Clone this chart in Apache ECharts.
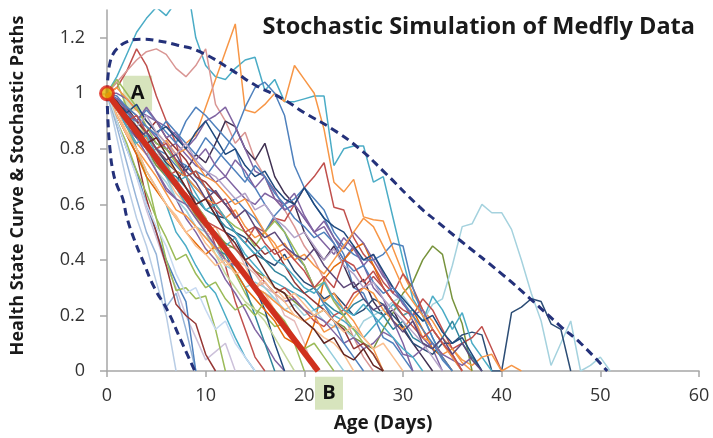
<!DOCTYPE html>
<html><head><meta charset="utf-8">
<script src="https://cdn.jsdelivr.net/npm/echarts@6/dist/echarts.min.js"></script>
<style>html,body{margin:0;padding:0;background:#fff}#c{width:713px;height:438px}</style>
</head><body><div id="c"></div>
<script>
// ---- data (day index = x) ----
const xTicks = [0,10,20,30,40,50,60];
const yTicks = [0,0.2,0.4,0.6,0.8,1,1.2];
const titleText = 'Stochastic Simulation of Medfly Data';
const xName = 'Age (Days)';
const yName = 'Health State Curve & Stochastic Paths';

const p01 = [1,0.84,0.68,0.55,0.45,0.32,0.2,0.0];
const p02 = [1,0.88,0.75,0.62,0.5,0.42,0.23,0.28,0.15,0.0];
const p03 = [1,0.9,0.8,0.7,0.58,0.48,0.38,0.3,0.2,0.12,0.04,0.07,0.1,0];
const p04 = [1,0.9,0.8,0.72,0.6,0.5,0.4,0.32,0.25,0.0];
const p05 = [1,0.92,0.85,0.78,0.62,0.5,0.38,0.24,0.2,0.17,0.06,0.0];
const p06 = [1,0.95,0.88,0.8,0.7,0.55,0.4,0.29,0.3,0.26,0.27,0.15,0.0];
const p07 = [1,1.02,1.08,1.16,1.1,0.99,0.9,0.82,0.7,0.6,0.55,0.45,0.38,0.25,0.15,0.05,0];
const p08 = [1,0.96,0.9,0.8,0.72,0.66,0.6,0.5,0.45,0.38,0.32,0.28,0.2,0.12,0.05,0];
const p09 = [1,0.97,0.92,0.85,0.8,0.72,0.65,0.62,0.55,0.5,0.44,0.4,0.33,0.28,0.22,0.15,0.1,0.04,0];
const p10 = [1,1.04,0.95,0.9,0.85,0.8,0.75,0.68,0.62,0.6,0.55,0.48,0.4,0.35,0.28,0.22,0.2,0.16,0.17,0.1,0.0];
const p11 = [1,0.95,0.9,0.88,0.82,0.78,0.7,0.64,0.6,0.56,0.5,0.52,0.45,0.4,0.38,0.3,0.28,0.22,0.15,0.1,0.08,0.0];
const p12 = [1,0.98,0.94,0.88,0.82,0.76,0.72,0.66,0.62,0.58,0.5,0.44,0.42,0.36,0.3,0.2,0.1,0];
const p13 = [1,0.95,0.9,0.86,0.8,0.78,0.7,0.68,0.74,0.7,0.66,0.58,0.5,0.48,0.4,0.3,0.22,0.1,0.0];
const p14 = [1,0.97,0.93,0.88,0.85,0.8,0.72,0.7,0.62,0.58,0.5,0.48,0.44,0.45,0.38,0.35,0.3,0.28,0.2,0.18,0.1,0.0];
const p15 = [1,0.96,0.9,0.86,0.84,0.76,0.7,0.62,0.58,0.52,0.5,0.44,0.38,0.36,0.3,0.32,0.3,0.26,0.22,0.2,0.18,0.15,0.1,0.05,0.0];
const p16 = [1,0.98,0.92,0.86,0.8,0.76,0.72,0.66,0.6,0.55,0.5,0.42,0.35,0.3,0.25,0.22,0.18,0.12,0.06,0];
const p17 = [1,1.06,1.14,1.22,1.27,1.31,1.28,1.33,1.42,1.2,1.1,1.06,1.05,1.09,1.12,1.13,1.01,1.05,0.97,0.97,0.98,0.99,0.99,0.74,0.8,0.81,0.81,0.68,0.7,0.55,0.4,0.26,0.2,0.12,0.05,0];
const p18 = [1,0.95,0.88,0.82,0.78,0.8,0.83,0.78,0.82,0.85,0.95,1.05,1.15,1.25,0.94,0.93,0.96,1.0,0.97,1.1,1.05,1.0,0.87,0.68,0.645,0.69,0.555,0.545,0.54,0.44,0.35,0.28,0.22,0.18,0.12,0.08,0.03,0];
const p19 = [1,1.04,1.08,1.12,1.15,1.16,1.14,1.09,1.06,1.1,1.16,0.96,0.9,0.82,0.86,0.76,0.7,0.62,0.58,0.52,0.45,0.4,0.33,0.26,0.2,0.12,0.05,0];
const p20 = [1,0.96,0.92,0.88,0.84,0.8,0.78,0.74,0.7,0.72,0.7,0.75,0.8,0.86,0.95,1.02,1.04,1.0,0.92,0.74,0.66,0.6,0.55,0.48,0.42,0.3,0.28,0.2,0.12,0.1,0.05,0];
const p21 = [1,0.98,0.95,0.9,0.86,0.82,0.8,0.76,0.72,0.78,0.75,0.82,0.9,0.88,0.8,0.76,0.82,0.7,0.64,0.6,0.5,0.44,0.4,0.45,0.38,0.3,0.33,0.25,0.2,0.22,0.15,0.1,0.05,0];
const p22 = [1,1.0,0.98,0.94,0.92,0.9,0.88,0.85,0.8,0.84,0.9,0.92,0.95,0.88,0.8,0.72,0.7,0.65,0.58,0.6,0.55,0.5,0.52,0.46,0.4,0.45,0.38,0.42,0.35,0.28,0.25,0.18,0.12,0.08,0];
const p23 = [1,0.95,0.88,0.84,0.8,0.75,0.7,0.72,0.66,0.6,0.62,0.58,0.55,0.5,0.46,0.52,0.5,0.55,0.54,0.6,0.66,0.7,0.75,0.59,0.58,0.48,0.42,0.38,0.32,0.28,0.35,0.3,0.22,0.15,0.1,0.05,0];
const p24 = [1,0.92,0.85,0.78,0.7,0.65,0.6,0.55,0.5,0.46,0.42,0.45,0.4,0.36,0.3,0.26,0.22,0.18,0.12,0.1,0.08,0.17,0.33,0.375,0.4,0.44,0.46,0.38,0.3,0.25,0.2,0.22,0.15,0.08,0.05,0];
const p25 = [1,0.95,0.9,0.86,0.8,0.74,0.7,0.66,0.62,0.56,0.52,0.5,0.46,0.44,0.4,0.36,0.34,0.3,0.28,0.25,0.22,0.2,0.22,0.18,0.16,0.12,0.1,0.08,0.15,0.21,0.28,0.32,0.4,0.45,0.42,0.26,0.17,0.0];
const p26 = [1,0.95,0.9,0.85,0.8,0.72,0.68,0.62,0.58,0.52,0.48,0.45,0.4,0.38,0.35,0.3,0.28,0.26,0.22,0.24,0.2,0.22,0.18,0.16,0.15,0.12,0.18,0.2,0.22,0.25,0.27,0.22,0.18,0.24,0.26,0.38,0.52,0.53,0.6,0.57,0.57,0.51,0.4,0.28,0.18,0.02,0.1,0.18,0.0,0.02,0.05,0.0];
const p27 = [1,0.96,0.92,0.88,0.84,0.8,0.75,0.72,0.7,0.66,0.62,0.56,0.55,0.5,0.48,0.44,0.4,0.38,0.42,0.36,0.32,0.3,0.26,0.28,0.24,0.2,0.22,0.26,0.24,0.2,0.16,0.1,0.08,0.06,0.1,0.1,0.13,0.14,0.13,0.0,0.0,0.21,0.23,0.26,0.25,0.17,0.15,0.0];
const p28 = [1,0.97,0.93,0.9,0.88,0.85,0.8,0.76,0.74,0.7,0.66,0.64,0.6,0.62,0.58,0.55,0.5,0.56,0.6,0.62,0.66,0.62,0.58,0.5,0.45,0.42,0.4,0.4,0.42,0.46,0.45,0.3,0.2,0.12,0.05,0];
const p29 = [1,0.94,0.9,0.84,0.8,0.76,0.7,0.66,0.6,0.58,0.52,0.5,0.45,0.48,0.42,0.38,0.34,0.32,0.3,0.28,0.26,0.22,0.24,0.2,0.18,0.15,0.12,0.16,0.2,0.24,0.2,0.22,0.18,0.27,0.22,0.15,0.21,0.1,0.05,0];
const p30 = [1,0.97,0.9,0.85,0.82,0.76,0.72,0.66,0.64,0.6,0.54,0.52,0.5,0.44,0.4,0.36,0.32,0.28,0.3,0.26,0.22,0.18,0.16,0.2,0.22,0.28,0.3,0.34,0.3,0.25,0.22,0.2,0.26,0.22,0.15,0.08,0.1,0.12,0.16,0.08,0];
const p31 = [1,0.92,0.86,0.8,0.75,0.7,0.64,0.58,0.56,0.52,0.48,0.44,0.45,0.4,0.35,0.3,0.28,0.25,0.22,0.2,0.18,0.2,0.14,0.16,0.2,0.26,0.3,0.28,0.22,0.18,0.15,0.2,0.12,0.1,0.06,0.08,0.04,0.02,0.05,0.06,0.0,0.02,0];
const p32 = [1,0.94,0.88,0.84,0.78,0.72,0.66,0.62,0.6,0.55,0.5,0.45,0.4,0.38,0.34,0.3,0.32,0.28,0.25,0.26,0.22,0.2,0.18,0.14,0.1,0.12,0.08,0.1,0.14,0.12,0.06,0.05,0.08,0.1,0.06,0.04,0.02,0.05,0.0];
const p33 = [1,0.96,0.92,0.86,0.82,0.78,0.72,0.7,0.66,0.62,0.58,0.56,0.52,0.5,0.46,0.42,0.4,0.36,0.34,0.3,0.28,0.3,0.25,0.22,0.2,0.24,0.26,0.22,0.2,0.15,0.18,0.12,0.1,0.08,0.12,0.18,0.1,0.05,0];
const p34 = [1,0.98,0.95,0.92,0.88,0.84,0.8,0.82,0.78,0.74,0.72,0.68,0.7,0.66,0.62,0.6,0.64,0.62,0.58,0.6,0.55,0.5,0.46,0.42,0.48,0.44,0.38,0.3,0.26,0.18,0.1,0.0];
const p35 = [1,1.02,0.98,0.94,0.9,0.86,0.82,0.78,0.8,0.75,0.7,0.68,0.64,0.6,0.62,0.56,0.5,0.46,0.4,0.42,0.38,0.3,0.25,0.28,0.22,0.18,0.12,0.08,0];
const p36 = [1,0.97,0.92,0.9,0.94,0.9,0.86,0.82,0.9,0.95,0.92,0.88,0.84,0.8,0.7,0.66,0.6,0.55,0.5,0.42,0.38,0.3,0.24,0.18,0.1,0.05,0];
const p37 = [1,1.05,1.0,0.95,0.88,0.82,0.8,0.75,0.7,0.72,0.66,0.6,0.55,0.52,0.5,0.45,0.5,0.54,0.5,0.44,0.38,0.3,0.32,0.25,0.2,0.15,0.1,0.06,0];
const p38 = [1,0.96,0.94,0.9,0.86,0.9,0.84,0.8,0.76,0.7,0.68,0.64,0.6,0.56,0.5,0.46,0.42,0.44,0.38,0.32,0.28,0.25,0.22,0.18,0.15,0.08,0.1,0.06,0.0];
const p39 = [1,0.92,0.85,0.8,0.72,0.66,0.6,0.55,0.5,0.45,0.42,0.38,0.4,0.35,0.36,0.3,0.32,0.28,0.25,0.2,0.18,0.15,0.12,0.1,0.06,0];
const p40 = [1,0.98,0.94,0.9,0.95,0.9,0.84,0.86,0.8,0.76,0.8,0.74,0.7,0.76,0.72,0.66,0.7,0.62,0.6,0.64,0.56,0.5,0.54,0.48,0.44,0.5,0.46,0.4,0.34,0.3,0.24,0.2,0.22,0.15,0.1,0.06,0];
const p41 = [1,0.97,0.93,0.96,0.9,0.86,0.88,0.84,0.8,0.86,0.9,0.84,0.78,0.8,0.74,0.7,0.72,0.66,0.62,0.6,0.66,0.6,0.55,0.52,0.5,0.45,0.4,0.42,0.36,0.3,0.26,0.22,0.18,0.2,0.14,0.1,0.12,0.06,0];
const p42 = [1,0.99,0.95,0.92,0.88,0.85,0.9,0.86,0.82,0.78,0.84,0.8,0.76,0.72,0.68,0.74,0.7,0.64,0.6,0.55,0.52,0.48,0.5,0.46,0.4,0.36,0.38,0.32,0.28,0.3,0.25,0.2,0.15,0.1,0.04,0];
const p43 = [1,0.96,0.92,0.88,0.92,0.86,0.82,0.78,0.82,0.76,0.72,0.7,0.66,0.62,0.64,0.58,0.6,0.55,0.52,0.48,0.5,0.45,0.4,0.44,0.38,0.35,0.3,0.32,0.26,0.22,0.18,0.14,0.1,0.05,0];
const p44 = [1,0.95,0.92,0.86,0.84,0.8,0.76,0.72,0.7,0.66,0.62,0.6,0.55,0.58,0.52,0.48,0.5,0.44,0.46,0.4,0.42,0.38,0.35,0.4,0.45,0.5,0.55,0.52,0.45,0.38,0.3,0.25,0.2,0.15,0.1,0.05,0];
const p45 = [1,0.96,0.9,0.92,0.86,0.8,0.82,0.76,0.7,0.72,0.66,0.6,0.62,0.56,0.5,0.52,0.46,0.42,0.44,0.4,0.36,0.3,0.34,0.3,0.4,0.38,0.32,0.36,0.3,0.25,0.2,0.16,0.12,0.15,0.1,0.06,0];
const p46 = [1,0.95,0.9,0.84,0.86,0.8,0.76,0.78,0.72,0.68,0.62,0.65,0.6,0.55,0.58,0.52,0.48,0.5,0.45,0.42,0.4,0.44,0.38,0.34,0.3,0.32,0.26,0.22,0.24,0.18,0.14,0.18,0.1,0.08,0.12,0.06,0.1,0.04,0];
const p47 = [1,0.94,0.88,0.82,0.85,0.78,0.74,0.68,0.7,0.64,0.58,0.6,0.55,0.5,0.46,0.42,0.45,0.4,0.38,0.34,0.3,0.28,0.32,0.26,0.22,0.2,0.24,0.2,0.16,0.12,0.08,0.05,0];
const p48 = [1,0.9,0.82,0.72,0.64,0.55,0.48,0.4,0.42,0.35,0.3,0.32,0.26,0.22,0.24,0.2,0.25,0.22,0.18,0.12,0.08,0.1,0.05,0];
const p49 = [1,0.94,0.86,0.8,0.72,0.66,0.6,0.56,0.5,0.52,0.46,0.42,0.38,0.4,0.35,0.3,0.34,0.3,0.26,0.28,0.24,0.2,0.22,0.18,0.14,0.16,0.12,0.08,0.1,0.05,0];
const p50 = [1,0.9,0.8,0.7,0.6,0.52,0.45,0.35,0.28,0.3,0.22,0.15,0.18,0.1,0.05,0];
const p51 = [1,0.97,0.92,0.88,0.82,0.84,0.78,0.72,0.66,0.6,0.62,0.56,0.5,0.46,0.4,0.42,0.36,0.3,0.28,0.22,0.18,0.15,0.1,0.12,0.06,0.04,0.08,0.02,0];

const paths = [p01,p02,p03,p04,p05,p06,p07,p08,p09,p10,p11,p12,p13,p14,p15,p16,p17,p18,p19,p20,
  p21,p22,p23,p24,p25,p26,p27,p28,p29,p30,p31,p32,p33,p34,p35,p36,p37,p38,p39,
  p40,p41,p42,p43,p44,p45,p46,p47,p48,p49,p50,p51];
const pathColors = ['#B9CDE5','#95B3D7','#CCC1DA','#4F81BD','#953735','#9BBB59',
  '#C0504D','#4BACC6','#8064A2','#9BBB59','#FAC090','#31859C','#1F497D','#E6B9B8','#93CDDD','#C3D69B',
  '#4BACC6','#F79646','#D99694','#4F81BD','#403152','#8064A2','#C0504D','#E46C0A','#77933C','#A5D2DE','#2C4D75','#4F81BD',
  '#4BACC6','#C0504D','#F79646','#8064A2','#31859C',
  '#8064A2','#F79646','#4F81BD','#9BBB59','#953735','#FAC090',
  '#8064A2','#1F497D','#4F81BD','#B3A2C7','#F79646','#C0504D','#5F497A','#4BACC6','#9BBB59','#FAC090','#C6D9F1','#632523'];

const upperX = [0,0.1,0.3,0.6,1,2,3.5,5,7,9.4,12.8,15,17.8,20,22.9,25.6,28,31.7,33.4,35.8,40,42.9,46,48,50.7];
const upperY = [1,1.06,1.11,1.14,1.16,1.185,1.195,1.19,1.175,1.15,1.08,1.03,0.98,0.93,0.87,0.8,0.72,0.59,0.54,0.47,0.35,0.26,0.16,0.1,0];
const lowerX = [0,0.1,0.3,0.6,1.0,1.6,2.0,2.8,3.6,4.8,6.1,7.5,8.9];
const lowerY = [1,0.9,0.8,0.72,0.67,0.62,0.555,0.47,0.4,0.3,0.22,0.11,0];
const healthX = [0,21.4];
const healthY = [1,0];
const labelA = {text:'A', x:3.1, y:1.0};
const labelB = {text:'B', x:22.5, y:-0.08};

// ---- chart ----
const chart = echarts.init(document.getElementById('c'), null, {renderer:'canvas'});
const zip = (xs, ys) => xs.map((x,i)=>[x, ys[i]]);
const series = [];
paths.forEach((p, k) => {
  series.push({type:'line', data:p.map((v,i)=>[i,v]), symbol:'none', silent:true,
    lineStyle:{color:pathColors[k], width:1.5}, z:2});
});
series.push({type:'line', data:zip(upperX, upperY), smooth:true, symbol:'none',
  lineStyle:{color:'#24317A', width:3, type:[8,5]}, z:3});
series.push({type:'line', data:zip(lowerX, lowerY), smooth:true, symbol:'none',
  lineStyle:{color:'#24317A', width:3, type:[8,5]}, z:3});
series.push({type:'line', data:zip(healthX, healthY), symbol:'none',
  lineStyle:{color:'#D0301E', width:6}, z:4});
series.push({type:'scatter', data:[[healthX[0], healthY[0]]], symbolSize:13,
  itemStyle:{color:'#E8B400', borderColor:'#E0261A', borderWidth:3}, z:5});

const lab = {fontFamily:'Open Sans', fontSize:18, color:'#333333'};
chart.setOption({
  animation:false,
  title:{text:titleText, right:13, top:10,
    textStyle:{fontFamily:'Open Sans', fontWeight:'bold', fontSize:23.5, color:'#1a1a1a'}},
  grid:{left:107, right:14, top:10, bottom:67},
  xAxis:{type:'value', min:0, max:60, interval:10,
    name:xName, nameLocation:'middle', nameGap:43,
    nameTextStyle:{fontFamily:'Open Sans', fontWeight:'bold', fontSize:19, color:'#1a1a1a', padding:[0,40,0,0]},
    axisLine:{lineStyle:{color:'#A6A6A6', width:1.5}},
    axisTick:{show:true, length:6, lineStyle:{color:'#A6A6A6', width:1.5}},
    splitLine:{show:false},
    axisLabel:Object.assign({margin:16}, lab)},
  yAxis:{type:'value', min:0, max:1.3, interval:0.2,
    name:yName, nameLocation:'middle', nameGap:80, nameRotate:90,
    nameTextStyle:{fontFamily:'Open Sans', fontWeight:'bold', fontSize:18, color:'#1a1a1a', padding:[0,0,0,10]},
    axisLine:{show:true, lineStyle:{color:'#A6A6A6', width:1.5}},
    axisTick:{show:true, length:7, lineStyle:{color:'#A6A6A6', width:1.5}},
    splitLine:{show:false},
    axisLabel:Object.assign({margin:22, showMaxLabel:false,
      formatter:v => v > 1.25 ? '' : String(+v.toFixed(1))}, lab)},
  series
});

function box(l, w, h){
  const pt = chart.convertToPixel({gridIndex:0}, [l.x, l.y]);
  return {type:'group', x:pt[0], y:pt[1], z:100, children:[
    {type:'rect', shape:{x:-w/2, y:-h/2, width:w, height:h}, style:{fill:'#D7E4BD'}},
    {type:'text', x:0, y:0, style:{text:l.text, fontFamily:'Open Sans', fontWeight:'bold', fontSize:20,
      fill:'#111', align:'center', verticalAlign:'middle'}}
  ]};
}
chart.setOption({graphic:[box(labelA, 29, 35), box(labelB, 28, 33)]});
</script></body></html>
